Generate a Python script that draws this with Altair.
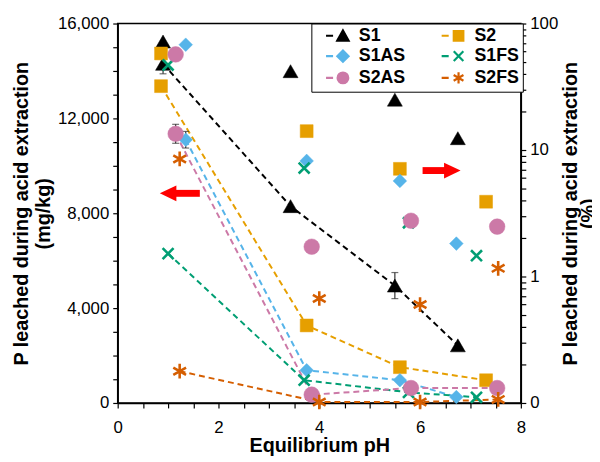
import altair as alt
import pandas as pd

series = ["S1", "S2", "S1AS", "S1FS", "S2AS", "S2FS"]
colors = ["#000000", "#E69F00", "#56B4E9", "#009E73", "#CC79A7", "#D55E00"]

X_PATH = "M-0.85,-0.85L0.85,0.85M-0.85,0.85L0.85,-0.85"
AST_PATH = "M0,-1V1M-0.87,-0.5L0.87,0.5M-0.87,0.5L0.87,-0.5"
shapes = ["triangle-up", "square", "diamond", X_PATH, "circle", AST_PATH]
sizes = [230, 170, 190, 170, 250, 220]
stroke_widths = [0.5, 0.5, 0.5, 2.6, 0.5, 2.6]

# equilibrium pH
ph_S1 = [0.9, 3.43, 5.5, 6.75]
ph_S2 = [0.86, 3.75, 5.6, 7.31]
ph_S1AS = [1.35, 3.75, 5.6, 6.72]
ph_S1FS = [1.0, 3.7, 5.77, 7.12]
ph_S2AS = [1.15, 3.85, 5.82, 7.53]
ph_S2FS = [1.23, 4.0, 6.0, 7.55]

# P leached (mg/kg) - left axis
mg_S1 = [14300, 8300, 4950, 2430]
mg_S2 = [13360, 3270, 1510, 960]
mg_S1AS = [11100, 1380, 960, 250]
mg_S1FS = [6300, 960, 450, 240]
mg_S2AS = [11350, 350, 630, 630]
mg_S2FS = [1340, 40, 40, 150]

# P leached (%) - right axis
pct_S1 = [72, 42, 25, 12.4]
pct_S2 = [58, 14.1, 7.1, 3.9]
pct_S1AS = [68, 8.2, 5.7, 1.82]
pct_S1FS = [47, 7.2, 2.66, 1.46]
pct_S2AS = [57, 1.72, 2.76, 2.48]
pct_S2FS = [8.5, 0.67, 0.6, 1.16]

# error bars (mg/kg)
err_series = ["S1", "S1", "S1AS", "S2AS"]
err_ph = [0.9, 5.5, 1.35, 1.15]
err_mid = [14300, 4950, 11100, 11350]
err_half = [420, 550, 350, 400]

# red arrows (shaft from x1 to x2, head at hx pointing to tip)
arrow_x1 = [1.1, 6.05]
arrow_x2 = [1.63, 6.55]
arrow_head_x = [1.0, 6.64]
arrow_y = [8840, 9800]
arrow_dir = ["left", "right"]

phs = [ph_S1, ph_S2, ph_S1AS, ph_S1FS, ph_S2AS, ph_S2FS]
mgs = [mg_S1, mg_S2, mg_S1AS, mg_S1FS, mg_S2AS, mg_S2FS]
pcts = [pct_S1, pct_S2, pct_S1AS, pct_S1FS, pct_S2AS, pct_S2FS]

rows = []
for k, (s, p, m, q) in enumerate(zip(series, phs, mgs, pcts)):
    for i in range(len(p)):
        rows.append({"series": s, "shp": s, "col": colors[k], "sz": sizes[k],
                     "sw": stroke_widths[k], "ph": p[i], "mg": m[i], "pct": q[i], "order": i})
df = pd.DataFrame(rows)

err_df = pd.DataFrame({
    "series": err_series, "ph": err_ph,
    "lo": [m - h for m, h in zip(err_mid, err_half)],
    "hi": [m + h for m, h in zip(err_mid, err_half)],
})
arrow_df = pd.DataFrame({"x1": arrow_x1, "x2": arrow_x2, "hx": arrow_head_x,
                         "y": arrow_y, "dir": arrow_dir})

FONT = "Liberation Sans"
LEFT_TITLE = ["P leached during acid extraction", "(mg/kg)"]
RIGHT_TITLE = ["P leached during acid extraction", "(%)"]

xscale = alt.Scale(domain=[0, 8], nice=False)
xaxis = alt.Axis(values=[i * 0.5 for i in range(17)],
                 labelExpr="datum.value % 2 == 0 ? datum.value : ''",
                 title="Equilibrium pH", grid=False, labelPadding=12,
                 titleY=33, titleBaseline="top")
yscale = alt.Scale(domain=[0, 16000], nice=False)
yaxis = alt.Axis(values=list(range(0, 16001, 1000)),
                 labelExpr="datum.value % 4000 == 0 ? format(datum.value, ',') : ''",
                 title=LEFT_TITLE, grid=False, titlePadding=4)

right_vals = [0.1 * k for k in range(1, 10)] + list(range(1, 10)) + list(range(10, 101, 10))
right_vals = [round(v, 2) for v in right_vals]
rscale = alt.Scale(type="log", domain=[0.1, 100], nice=False)
raxis = alt.Axis(orient="right", values=right_vals,
                 labelExpr="datum.value < 0.15 ? '0' : (datum.value == 1 || datum.value == 10 || datum.value == 100) ? format(datum.value, 'd') : ''",
                 title=RIGHT_TITLE, titleAngle=270, grid=False, titlePadding=5,
                 titleLineHeight=18)

DASH = "M0.5,0H1.75"
shape_sig = ("datum.value == 'S1' ? '" + DASH + "M2.5,0.85L3.5,-0.95L4.5,0.85Z' : "
             "datum.value == 'S2' ? '" + DASH + "M2.65,-0.85H4.35V0.85H2.65Z' : "
             "datum.value == 'S1AS' ? '" + DASH + "M3.5,-1L4.5,0L3.5,1L2.5,0Z' : "
             "datum.value == 'S1FS' ? '" + DASH + "M2.65,-0.85L4.35,0.85M2.65,0.85L4.35,-0.85' : "
             "datum.value == 'S2AS' ? '" + DASH + "M4.45,0A0.95,0.95,0,1,1,2.55,0A0.95,0.95,0,1,1,4.45,0Z' : "
             "'" + DASH + "M3.5,-1V1M2.63,-0.5L4.37,0.5M2.63,0.5L4.37,-0.5'")
stroke_sig = "scale('color', datum.value)"

legend = alt.Legend(
    title=None, orient="none", legendX=196, legendY=0, columns=2, direction="horizontal",
    strokeColor="black", fillColor="white", padding=3,
    labelFont=FONT, labelFontSize=18, labelFontWeight="bold", labelColor="black",
    symbolSize=130, labelOffset=27, columnPadding=24, rowPadding=0,
    symbolStrokeWidth=2.2,
    symbolType=alt.ExprRef(expr=shape_sig),
    symbolStrokeColor=alt.ExprRef(expr=stroke_sig),
)

color_enc = alt.Color("series:N", scale=alt.Scale(domain=series, range=colors), legend=legend,
                      sort=series)
shape_enc = alt.Shape("shp:N", scale=alt.Scale(range=shapes), sort=series, legend=None)
stroke_enc = alt.Stroke("col:N", scale=None)
size_enc = alt.Size("sz:Q", scale=None)
sw_enc = alt.StrokeWidth("sw:Q", scale=None)

X = alt.X("ph:Q", scale=xscale, axis=xaxis)

lines = alt.Chart(df).mark_line(strokeDash=[6, 4], strokeWidth=2).encode(
    x=X,
    y=alt.Y("mg:Q", scale=yscale, axis=yaxis),
    stroke=stroke_enc,
    detail="series:N",
    order="order:Q",
)

errs = alt.Chart(err_df).mark_rule(color="#333333", strokeWidth=1.2).encode(
    x=X, y=alt.Y("lo:Q", scale=yscale, axis=yaxis), y2="hi:Q")
caps_lo = alt.Chart(err_df).mark_tick(color="#333333", thickness=1.2, size=7, orient="horizontal").encode(
    x=X, y=alt.Y("lo:Q", scale=yscale, axis=yaxis))
caps_hi = alt.Chart(err_df).mark_tick(color="#333333", thickness=1.2, size=7, orient="horizontal").encode(
    x=X, y=alt.Y("hi:Q", scale=yscale, axis=yaxis))

pts_left = alt.Chart(df).mark_point(filled=True, opacity=1).encode(
    x=X, y=alt.Y("mg:Q", scale=yscale, axis=yaxis),
    color=color_enc, shape=shape_enc, size=size_enc, stroke=stroke_enc, strokeWidth=sw_enc,
)

arrow_shaft = alt.Chart(arrow_df).mark_rule(color="#FF0000", strokeWidth=7).encode(
    x=alt.X("x1:Q", scale=xscale, axis=xaxis), x2="x2:Q",
    y=alt.Y("y:Q", scale=yscale, axis=yaxis))
head_left = alt.Chart(arrow_df).transform_filter("datum.dir == 'left'").mark_point(
    filled=True, opacity=1, color="#FF0000", size=280, shape="M-1,0L1,-0.95L1,0.95Z").encode(
    x=alt.X("hx:Q", scale=xscale, axis=xaxis),
    y=alt.Y("y:Q", scale=yscale, axis=yaxis))
head_right = alt.Chart(arrow_df).transform_filter("datum.dir == 'right'").mark_point(
    filled=True, opacity=1, color="#FF0000", size=280, shape="M1,0L-1,-0.95L-1,0.95Z").encode(
    x=alt.X("hx:Q", scale=xscale, axis=xaxis),
    y=alt.Y("y:Q", scale=yscale, axis=yaxis))

left = alt.layer(lines, errs, caps_lo, caps_hi, arrow_shaft, head_left, head_right, pts_left)

pts_right = alt.Chart(df).mark_point(filled=True, opacity=1).encode(
    x=X, y=alt.Y("pct:Q", scale=rscale, axis=raxis),
    color=color_enc, shape=shape_enc, size=size_enc, stroke=stroke_enc, strokeWidth=sw_enc,
)

chart = alt.layer(left, pts_right).resolve_scale(
    y="independent", shape="shared", color="shared"
).properties(
    width=408, height=384, autosize="none",
    padding={"left": 111, "top": 13, "right": 72, "bottom": 56},
).configure_view(
    stroke="black", strokeWidth=1.5
).configure_axis(
    labelFont=FONT, labelFontSize=17, labelColor="black",
    titleFont=FONT, titleFontSize=20, titleFontWeight="bold", titleColor="black",
    domainColor="black", domainWidth=1.5, tickColor="black", tickWidth=1.2, tickSize=5,
    labelPadding=4, titlePadding=8, labelFlush=False, labelOverlap=False,
)

chart.save("out.html", embed_options={"renderer": "svg", "actions": False})
